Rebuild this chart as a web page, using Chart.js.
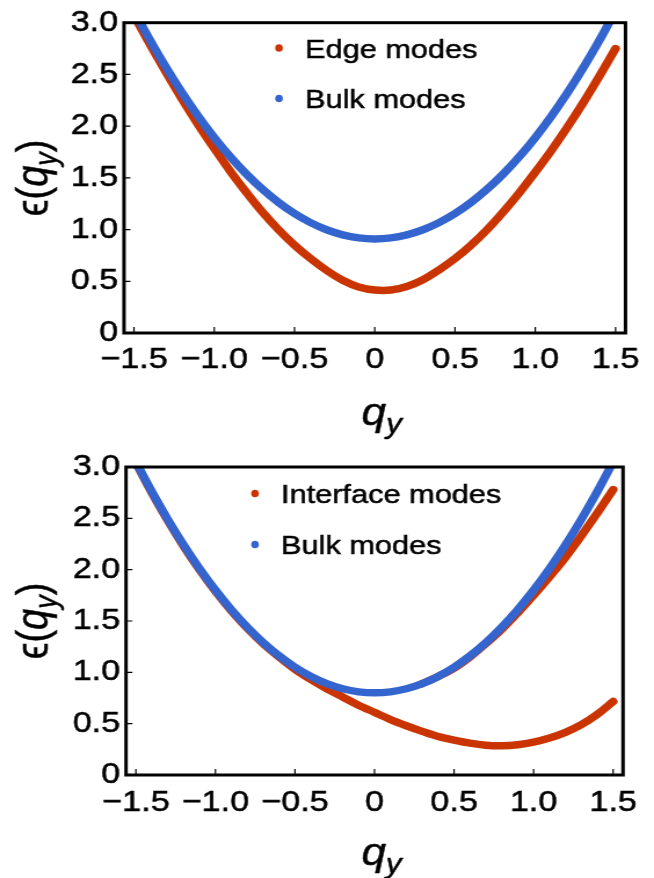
<!DOCTYPE html>
<html>
<head>
<meta charset="utf-8">
<script src="https://cdn.jsdelivr.net/npm/chart.js@4.4.1/dist/chart.umd.min.js"></script>
<style>
  html, body { margin: 0; padding: 0; background: #fff; }
  canvas { display: block; }
</style>
</head>
<body>
<canvas id="edgeChart" width="564" height="440" style="width:654px;height:440px"></canvas>
<canvas id="interfaceChart" width="564" height="438" style="width:654px;height:438px"></canvas>
<script>
// momentum grid
const qy = [-1.5, -1.4, -1.3, -1.2, -1.1, -1.0, -0.9, -0.8, -0.7, -0.6, -0.5, -0.4, -0.3, -0.2, -0.1,
  0, 0.1, 0.2, 0.3, 0.4, 0.5, 0.6, 0.7, 0.8, 0.9, 1.0, 1.1, 1.2, 1.3, 1.4, 1.5];

// upper panel
const edgeModes = [3.07, 2.79, 2.52, 2.26, 2.015, 1.785, 1.565, 1.36, 1.17, 1.00, 0.85, 0.72, 0.605, 0.51, 0.445,
  0.415, 0.415, 0.45, 0.515, 0.61, 0.72, 0.85, 1.00, 1.17, 1.355, 1.555, 1.765, 1.99, 2.23, 2.485, 2.75];
const bulkUpper = [3.115, 2.831, 2.566, 2.321, 2.096, 1.890, 1.704, 1.537, 1.390, 1.263, 1.155, 1.067, 0.998, 0.949, 0.920,
  0.910, 0.920, 0.949, 0.998, 1.067, 1.155, 1.263, 1.390, 1.537, 1.704, 1.890, 2.096, 2.321, 2.566, 2.831, 3.115];

// lower panel
const interfaceLow = [3.04, 2.75, 2.48, 2.23, 2.00, 1.79, 1.60, 1.43, 1.28, 1.15, 1.03, 0.93, 0.84, 0.76, 0.68,
  0.61, 0.54, 0.48, 0.425, 0.375, 0.34, 0.31, 0.29, 0.285, 0.295, 0.32, 0.36, 0.415, 0.49, 0.59, 0.715];
const interfaceHigh = [null, null, null, null, null, null, null, null, null, null, null, null, null, null, null,
  null, null, null, 0.89, 0.96, 1.04, 1.15, 1.28, 1.42, 1.58, 1.75, 1.93, 2.12, 2.33, 2.55, 2.78];
const bulkLower = [3.05, 2.76, 2.49, 2.24, 2.01, 1.80, 1.61, 1.44, 1.29, 1.16, 1.05, 0.96, 0.89, 0.84, 0.81,
  0.80, 0.81, 0.84, 0.89, 0.96, 1.05, 1.16, 1.29, 1.44, 1.61, 1.80, 2.01, 2.24, 2.49, 2.76, 3.05];

const qTicks = [-1.5, -1.0, -0.5, 0, 0.5, 1.0, 1.5];
const eTicks = [0, 0.5, 1.0, 1.5, 2.0, 2.5, 3.0];

const RED = "rgb(202, 52, 0)";
const BLUE = "rgb(52, 100, 206)";
const SX = 654 / 564; // canvases are drawn narrow, css stretches them
const FONT = "'Liberation Sans', Arial, Helvetica, sans-serif";

Chart.defaults.font.family = FONT;
Chart.defaults.color = "#000";

function points(ys) {
  return qy.map((q, i) => ({ x: q, y: ys[i] })).filter((p) => p.y !== null);
}

function fmt(v) {
  if (v === 0) return "0";
  const s = Math.abs(v).toFixed(1);
  return v < 0 ? "\u2212" + s : s;
}

function curve(label, ys, color, order) {
  return {
    label,
    data: points(ys),
    borderColor: color,
    backgroundColor: color,
    borderWidth: 7.5,
    borderCapStyle: "round",
    borderJoinStyle: "round",
    tension: 0.33,
    pointRadius: 0,
    fill: false,
    clip: 0,
    order,
  };
}

// filled text with a hairline stroke so it reads a little heavier
function heavyText(ctx, s, x, y) {
  ctx.fillText(s, x, y);
  ctx.strokeText(s, x, y);
}

// frame with inward ticks on the left and bottom
const framePlugin = {
  id: "frame",
  afterDatasetsDraw(chart) {
    const { ctx, chartArea: a, scales } = chart;
    ctx.save();
    ctx.strokeStyle = "#000";
    ctx.lineWidth = 1.2;
    ctx.beginPath();
    qTicks.forEach((v) => {
      const x = scales.x.getPixelForValue(v);
      ctx.moveTo(x, a.bottom);
      ctx.lineTo(x, a.bottom - 6);
    });
    eTicks.forEach((v) => {
      const y = scales.y.getPixelForValue(v);
      ctx.moveTo(a.left, y);
      ctx.lineTo(a.left + 5.5, y);
    });
    ctx.stroke();
    ctx.lineWidth = 3;
    ctx.strokeRect(a.left, a.top, a.right - a.left, a.bottom - a.top);
    ctx.restore();
  },
};

// axis titles and the point legend inside the frame
const labelsPlugin = {
  id: "labels",
  afterDraw(chart, args, opts) {
    const { ctx, chartArea: a } = chart;
    ctx.save();
    ctx.fillStyle = "#000";
    ctx.strokeStyle = "#000";
    ctx.lineWidth = 0.5;
    ctx.textBaseline = "alphabetic";

    // x title: q_y
    const xParts = [["q", "italic 38px " + FONT, 0], ["y", "italic 27px " + FONT, 8]];
    let w = 0;
    xParts.forEach((p) => { ctx.font = p[1]; w += ctx.measureText(p[0]).width; });
    let cx = (a.left + a.right) / 2 + 6 - w / 2;
    xParts.forEach((p) => {
      ctx.font = p[1];
      heavyText(ctx, p[0], cx, opts.xTitleY + p[2]);
      cx += ctx.measureText(p[0]).width;
    });

    // y title: ϵ(q_y), rotated
    const yParts = [["\u03f5(", "38px " + FONT, 0], ["q", "italic 38px " + FONT, 0],
      ["y", "italic 27px " + FONT, 8], [")", "38px " + FONT, 0]];
    w = 0;
    yParts.forEach((p) => { ctx.font = p[1]; w += ctx.measureText(p[0]).width; });
    ctx.save();
    ctx.translate(opts.yTitleX, (a.top + a.bottom) / 2);
    ctx.rotate(-Math.PI / 2);
    cx = -w / 2;
    yParts.forEach((p) => {
      ctx.font = p[1];
      heavyText(ctx, p[0], cx, p[2]);
      cx += ctx.measureText(p[0]).width;
    });
    ctx.restore();

    // legend entries, one per label
    const seen = new Set();
    const items = chart.data.datasets.filter((d) => {
      if (seen.has(d.label)) return false;
      seen.add(d.label);
      return true;
    });
    ctx.font = "26.5px " + FONT;
    items.forEach((d, i) => {
      const y = opts.legendRows[i];
      ctx.fillStyle = d.borderColor;
      ctx.beginPath();
      ctx.ellipse(opts.dotX, y, 3.8 / SX, 3.8, 0, 0, Math.PI * 2);
      ctx.fill();
      ctx.fillStyle = "#000";
      heavyText(ctx, d.label, opts.textX, y + 9.5);
    });
    ctx.restore();
  },
};

function makeChart(id, datasets, box) {
  const tickFont = { size: 29.5 };
  return new Chart(document.getElementById(id), {
    type: "line",
    data: { datasets },
    options: {
      responsive: false,
      animation: false,
      events: [],
      layout: { padding: { left: 0, right: box.padRight, top: box.padTop, bottom: 0 } },
      plugins: {
        legend: { display: false },
        tooltip: { enabled: false },
        labels: box.labels,
      },
      scales: {
        x: {
          type: "linear",
          min: -1.562,
          max: 1.562,
          grid: { display: false, drawTicks: false },
          border: { display: false },
          afterBuildTicks: (scale) => { scale.ticks = qTicks.map((v) => ({ value: v })); },
          afterFit: (scale) => { scale.height = box.xHeight; },
          ticks: {
            font: tickFont, padding: box.xPad, maxRotation: 0, autoSkip: false,
            textStrokeColor: "#000", textStrokeWidth: 0.5, callback: (v) => fmt(v),
          },
        },
        y: {
          min: 0,
          max: 3,
          grid: { display: false, drawTicks: false },
          border: { display: false },
          afterBuildTicks: (scale) => { scale.ticks = eTicks.map((v) => ({ value: v })); },
          afterFit: (scale) => { scale.width = box.yWidth; },
          ticks: {
            font: tickFont, padding: 5,
            textStrokeColor: "#000", textStrokeWidth: 0.5, callback: (v) => fmt(v),
          },
        },
      },
    },
    plugins: [framePlugin, labelsPlugin],
  });
}

makeChart("edgeChart", [
  curve("Edge modes", edgeModes, RED, 1),
  curve("Bulk modes", bulkUpper, BLUE, 0),
], {
  padRight: 564 - 625.5 / SX,
  padTop: 22,
  yWidth: 124 / SX,
  xHeight: 440 - 333,
  xPad: 9,
  labels: { xTitleY: 425, yTitleX: 41, dotX: 279 / SX, textX: 305 / SX, legendRows: [48, 98.5] },
});

makeChart("interfaceChart", [
  curve("Interface modes", interfaceLow, RED, 1),
  curve("Bulk modes", bulkLower, BLUE, 0),
  curve("Interface modes", interfaceHigh, RED, 2),
], {
  padRight: 564 - 623 / SX,
  padTop: 27,
  yWidth: 126 / SX,
  xHeight: 438 - 335,
  xPad: 10,
  labels: { xTitleY: 425, yTitleX: 41, dotX: 255 / SX, textX: 281 / SX, legendRows: [53.5, 104.5] },
});
</script>
</body>
</html>
